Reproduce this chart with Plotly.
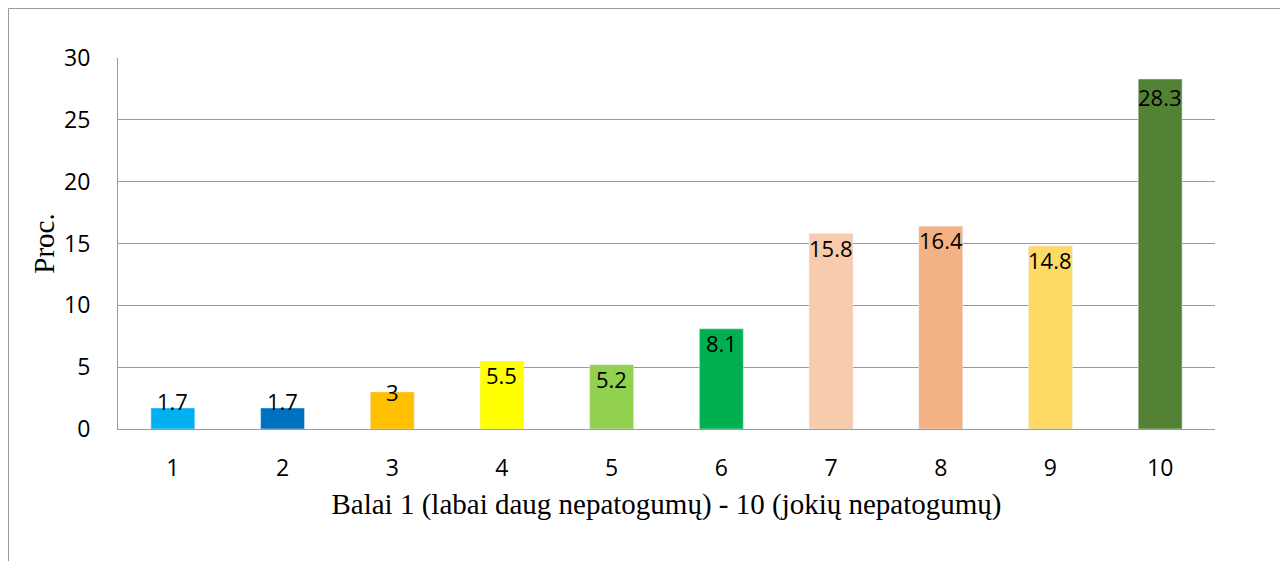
import plotly.graph_objects as go

scores = ["1", "2", "3", "4", "5", "6", "7", "8", "9", "10"]
percent = [1.7, 1.7, 3, 5.5, 5.2, 8.1, 15.8, 16.4, 14.8, 28.3]
bar_colors = ["#00b0f0", "#0070c0", "#ffc000", "#ffff00", "#92d050",
              "#00b050", "#f8cbad", "#f4b183", "#ffd966", "#548235"]
y_ticks = [0, 5, 10, 15, 20, 25, 30]

# page body adds 8px, so the figure is a little smaller than the window
W, H = 1280, 553
L, R, T, B = 110, 73, 50, 132
pw, ph = W - L - R, H - T - B

sans = "Open Sans, Noto Sans, sans-serif"
serif = "Liberation Serif, Times New Roman, serif"

fig = go.Figure()
fig.add_trace(go.Bar(
    x=scores, y=percent, marker_color=bar_colors, width=0.4,
    hoverinfo="x+y", showlegend=False,
))


def label_place(v):
    # Excel-like "inside end" labels, pushed up on the short bars
    if v < 2:
        return "middle", 7
    if v < 4:
        return "middle", 0
    if v < 20:
        return "top", 3
    return "top", -1


# category axis: annotations take the category index
for i, v in enumerate(percent):
    anchor, shift = label_place(v)
    fig.add_annotation(
        x=i, y=v, text=f"{v:g}", showarrow=False,
        yanchor=anchor, yshift=shift,
        font=dict(family=sans, size=22, color="black"),
    )

# outer chart border (open at the bottom)
fig.add_shape(
    type="rect", xref="paper", yref="paper",
    x0=(0.5 - L) / pw, x1=(1276.5 - L) / pw,
    y0=(H - B - 620) / ph, y1=(H - B - 0.5) / ph,
    line=dict(color="#9a9a9a", width=1), fillcolor="rgba(0,0,0,0)", layer="below",
)

fig.update_layout(
    width=W, height=H,
    margin=dict(l=L, r=R, t=T, b=B),
    paper_bgcolor="white", plot_bgcolor="white",
    font=dict(family=sans, size=23, color="black"),
    xaxis=dict(
        type="category", showgrid=False, ticks="", ticklabelstandoff=18,
        showline=True, linecolor="#9a9a9a", linewidth=1,
        tickfont=dict(size=23),
        title=dict(text="Balai 1 (labai daug nepatogumų) - 10 (jokių nepatogumų)",
                   font=dict(family=serif, size=29), standoff=12),
    ),
    yaxis=dict(
        range=[0, 30], tickvals=y_ticks, showgrid=True, gridcolor="#9a9a9a",
        gridwidth=1, zeroline=False, ticks="", ticklabelstandoff=22,
        showline=True, linecolor="#9a9a9a", linewidth=1,
        tickfont=dict(size=23),
        title=dict(text="Proc.", font=dict(family=serif, size=29), standoff=0),
    ),
)

fig.write_html("out.html")
